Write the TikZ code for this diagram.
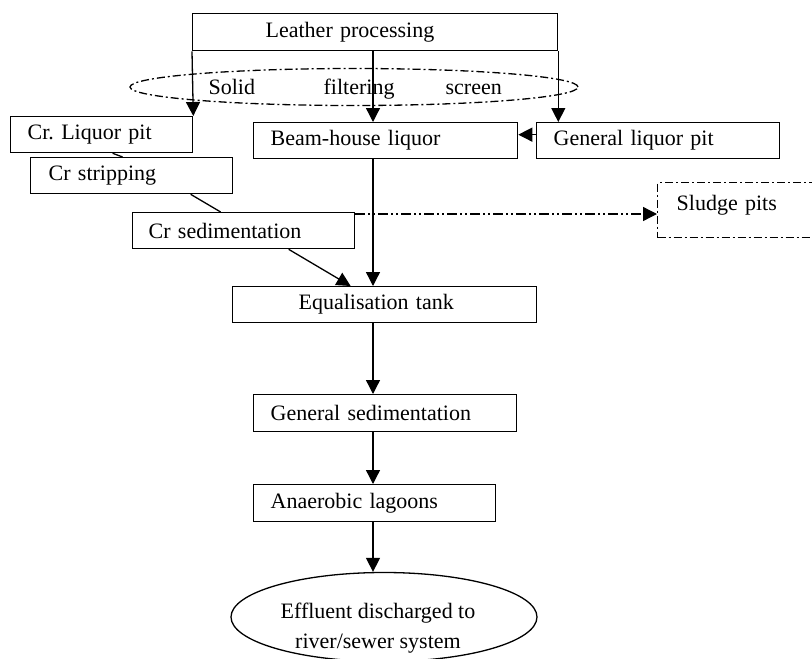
\documentclass[tikz,border=0pt]{standalone}
\usepackage{fontspec}
\setmainfont{Liberation Serif}
\usetikzlibrary{arrows.meta,shapes.geometric}
\frenchspacing
\begin{document}
\begin{tikzpicture}[x=1pt,y=-1pt,line width=1.3pt,
  box/.style={draw,rectangle,minimum height=36pt,inner ysep=0pt,align=left,anchor=north west,font=\fontsize{22}{25}\selectfont},
  arr/.style={-{Triangle[length=14pt,width=14pt]}},
  ddot/.style={dash pattern=on 10pt off 3pt on 2pt off 3pt on 2pt off 3pt},
  dsh/.style={dash pattern=on 8pt off 3pt on 2pt off 3pt},
  lbl/.style={inner sep=0pt,font=\fontsize{22}{25}\selectfont}]
\useasboundingbox (0,0) rectangle (812,659);
\clip (0,0) rectangle (812,659);
\coordinate (sp) at (373,0);
% filter ellipse
\node[ellipse,draw,dsh,minimum width=448pt,minimum height=37pt,inner sep=0pt] (filt) at (354,87) {};
\node[lbl,anchor=base west] (t1) at (208,94) {Solid};
\node[lbl,anchor=base west] (t2) at (323,94) {filtering};
\node[lbl,anchor=base west] (t3) at (445,94) {screen};
% boxes
\node[box,minimum height=37pt,inner xsep=73pt,text width=219pt] (lp) at (192,13) {Leather processing};
\node[box,inner xsep=17pt,text width=148pt] (clp) at (10,116) {Cr. Liquor pit};
\node[box,inner xsep=18pt,text width=166pt] (crs) at (30,157) {Cr stripping};
\node[box,inner xsep=16pt,text width=190pt] (crsed) at (132,212) {Cr sedimentation};
\node[box,inner xsep=17pt,text width=230pt] (bhl) at (253,122) {Beam-house liquor};
\node[box,inner xsep=17pt,text width=209pt] (glp) at (536,122) {General liquor pit};
\node[box,dsh,minimum height=55pt,inner xsep=19pt,text width=142pt,text height=22pt,text depth=22pt] (sludge) at (657,182) {Sludge pits};
\node[box,inner xsep=66pt,text width=172pt] (eq) at (232,286) {Equalisation tank};
\node[box,minimum height=37pt,inner xsep=17pt,text width=229pt] (gs) at (253,394) {General sedimentation};
\node[box,minimum height=37pt,inner xsep=17pt,text width=208pt] (al) at (253,484) {Anaerobic lagoons};
\node[ellipse,draw,minimum width=306pt,minimum height=89pt,inner sep=0pt] (eff) at (384,617) {};
\node[lbl,align=center,font=\fontsize{22}{30}\selectfont,anchor=base] (efft) at (378,648) {Effluent discharged to\\river/sewer system};
% connectors
\draw[arr] (lp.south west) -- (clp.north east);
\draw[arr] (lp.south -| sp) -- (bhl.north -| sp);
\draw[arr] (lp.south east) -- (lp.south east |- glp.north);
\draw[arr] ([yshift=6pt]glp.west) -- ([yshift=6pt]bhl.east);
\draw ([xshift=11pt]clp.south) -- ([xshift=-9pt]crs.north);
\draw ([xshift=59pt]crs.south) -- ([xshift=-23pt]crsed.north);
\draw[arr] ([xshift=45pt]crsed.south) -- ([xshift=-34pt]eq.north);
\draw[arr] (bhl.south -| sp) -- (eq.north -| sp);
\coordinate (sd) at ([yshift=-2pt]crsed.north east);
\draw[arr,ddot] (sd) -- (sd -| sludge.west);
\draw[arr] (eq.south -| sp) -- (gs.north -| sp);
\draw[arr] (gs.south -| sp) -- (al.north -| sp);
\draw[arr] (al.south -| sp) -- (eff.north -| sp);
\end{tikzpicture}
\end{document}
